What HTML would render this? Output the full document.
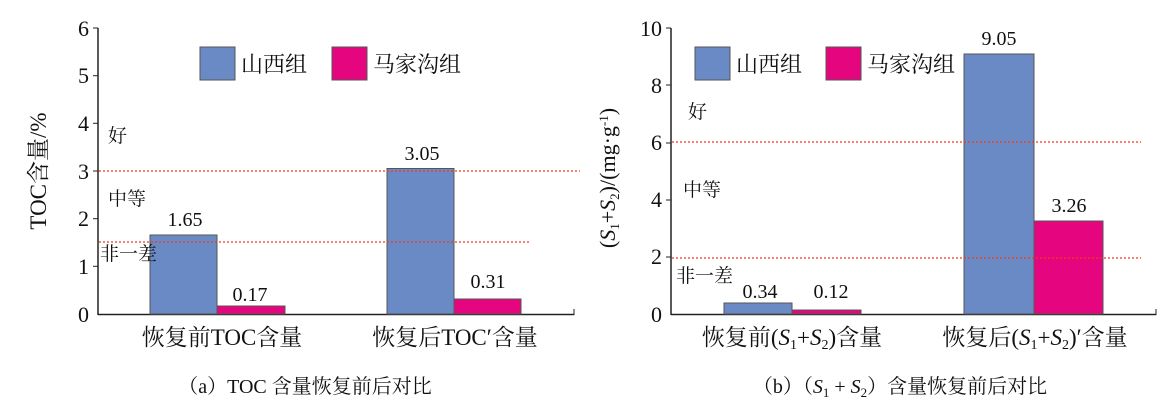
<!DOCTYPE html>
<html><head><meta charset="utf-8"><style>
html,body{margin:0;padding:0;background:#fff;}
svg text{font-family:"Liberation Serif","Noto Serif CJK SC","Noto Sans CJK SC",serif;fill:#111;}
</style></head><body>
<svg width="1165" height="407" viewBox="0 0 1165 407" xmlns="http://www.w3.org/2000/svg">
<!-- Chart A -->
<g font-size="22">
<line x1="98" y1="28" x2="98" y2="315" stroke="#222" stroke-width="1.5"/>
<line x1="98" y1="314.5" x2="574" y2="314.5" stroke="#222" stroke-width="1.5"/>
<line x1="574" y1="309" x2="574" y2="315" stroke="#222"/>
<g stroke="#222"><line x1="93" y1="28" x2="98" y2="28"/><line x1="93" y1="75.7" x2="98" y2="75.7"/><line x1="93" y1="123.3" x2="98" y2="123.3"/><line x1="93" y1="171" x2="98" y2="171"/><line x1="93" y1="218.7" x2="98" y2="218.7"/><line x1="93" y1="266.3" x2="98" y2="266.3"/></g>
<g text-anchor="end"><text x="89" y="36">6</text><text x="89" y="83">5</text><text x="89" y="131">4</text><text x="89" y="179">3</text><text x="89" y="226">2</text><text x="89" y="274">1</text><text x="89" y="322">0</text></g>
</g>
<g>
<rect x="150" y="235" width="67" height="79" fill="#6a8ac6" stroke="#555"/>
<rect x="217" y="306" width="68" height="8" fill="#e5067f" stroke="#555"/>
<rect x="387" y="168.5" width="67" height="145.5" fill="#6a8ac6" stroke="#555"/>
<rect x="454" y="299" width="67" height="15" fill="#e5067f" stroke="#555"/>
</g>
<g stroke="#f03a1a" stroke-width="1.3" stroke-dasharray="2,2"><line x1="99" y1="171" x2="580" y2="171"/><line x1="99" y1="242" x2="531" y2="242"/></g>
<g font-size="20" text-anchor="middle"><text x="185" y="226">1.65</text><text x="250" y="301">0.17</text><text x="422" y="160">3.05</text><text x="488" y="288">0.31</text></g>
<g font-size="19"><text x="108" y="142">好</text><text x="108" y="205">中等</text><text x="100" y="260">非一差</text></g>
<rect x="200" y="47" width="35" height="33" fill="#6a8ac6" stroke="#555"/><text x="241" y="72" font-size="22">山西组</text>
<rect x="332" y="47" width="35" height="33" fill="#e5067f" stroke="#555"/><text x="373" y="72" font-size="22">马家沟组</text>
<text transform="translate(46,171) rotate(-90)" text-anchor="middle" font-size="23">TOC含量/%</text>
<g font-size="23" text-anchor="middle"><text x="222" y="345">恢复前TOC含量</text><text x="455" y="345">恢复后TOC′含量</text></g>
<text x="305" y="393" font-size="20" text-anchor="middle">（a）TOC 含量恢复前后对比</text>

<!-- Chart B -->
<g font-size="22">
<line x1="671" y1="28" x2="671" y2="315" stroke="#222" stroke-width="1.5"/>
<line x1="671" y1="314.5" x2="1156" y2="314.5" stroke="#222" stroke-width="1.5"/>
<line x1="1156" y1="309" x2="1156" y2="315" stroke="#222"/>
<g stroke="#222"><line x1="666" y1="28" x2="671" y2="28"/><line x1="666" y1="85" x2="671" y2="85"/><line x1="666" y1="143" x2="671" y2="143"/><line x1="666" y1="200" x2="671" y2="200"/><line x1="666" y1="257" x2="671" y2="257"/></g>
<g text-anchor="end"><text x="662" y="36">10</text><text x="662" y="93">8</text><text x="662" y="150">6</text><text x="662" y="207">4</text><text x="662" y="264">2</text><text x="662" y="322">0</text></g>
</g>
<rect x="724" y="303" width="68" height="11" fill="#6a8ac6" stroke="#555"/>
<rect x="792" y="310" width="69" height="4" fill="#e5067f" stroke="#555"/>
<rect x="964" y="54" width="70" height="260" fill="#6a8ac6" stroke="#555"/>
<rect x="1034" y="221" width="69" height="93" fill="#e5067f" stroke="#555"/>
<g stroke="#f03a1a" stroke-width="1.3" stroke-dasharray="2,2"><line x1="672" y1="142" x2="1141" y2="142"/><line x1="672" y1="258" x2="1141" y2="258"/></g>
<g font-size="20" text-anchor="middle"><text x="760" y="298">0.34</text><text x="831" y="298">0.12</text><text x="999" y="45">9.05</text><text x="1069" y="212">3.26</text></g>
<g font-size="19"><text x="688" y="118">好</text><text x="683" y="196">中等</text><text x="676" y="282">非一差</text></g>
<rect x="695" y="47" width="35" height="33" fill="#6a8ac6" stroke="#555"/><text x="736" y="72" font-size="22">山西组</text>
<rect x="826" y="47" width="35" height="33" fill="#e5067f" stroke="#555"/><text x="867" y="72" font-size="22">马家沟组</text>
<text transform="translate(615,178) rotate(-90)" text-anchor="middle" font-size="22">(<tspan font-style="italic">S</tspan><tspan font-size="13" dy="4">1</tspan><tspan dy="-4">+</tspan><tspan font-style="italic">S</tspan><tspan font-size="13" dy="4">2</tspan><tspan dy="-4">)/(mg·g</tspan><tspan font-size="13" dy="-7">-1</tspan><tspan dy="7">)</tspan></text>
<g font-size="23" text-anchor="middle"><text x="792" y="345">恢复前(<tspan font-style="italic">S</tspan><tspan font-size="14" dy="4">1</tspan><tspan dy="-4">+</tspan><tspan font-style="italic">S</tspan><tspan font-size="14" dy="4">2</tspan><tspan dy="-4">)含量</tspan></text><text x="1035" y="345">恢复后(<tspan font-style="italic">S</tspan><tspan font-size="14" dy="4">1</tspan><tspan dy="-4">+</tspan><tspan font-style="italic">S</tspan><tspan font-size="14" dy="4">2</tspan><tspan dy="-4">)′含量</tspan></text></g>
<text x="900" y="393" font-size="20" text-anchor="middle">（b）（<tspan font-style="italic">S</tspan><tspan font-size="13" dy="4">1</tspan><tspan dy="-4"> + </tspan><tspan font-style="italic">S</tspan><tspan font-size="13" dy="4">2</tspan><tspan dy="-4">）含量恢复前后对比</tspan></text>
</svg>
</body></html>
